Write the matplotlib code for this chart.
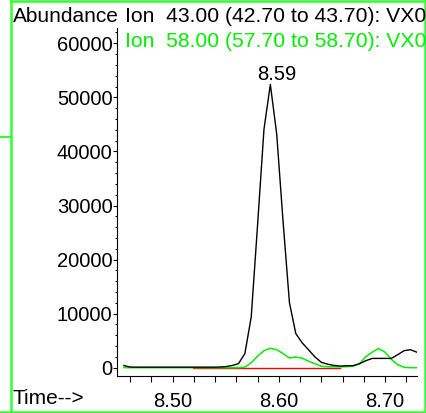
import matplotlib
matplotlib.use('Agg')
import matplotlib.pyplot as plt
from matplotlib.lines import Line2D
from matplotlib.ticker import MultipleLocator, FormatStrFormatter

plt.rcParams['font.family'] = ['Liberation Sans', 'DejaVu Sans']

# retention time (min) and abundance
time = [8.454, 8.460, 8.466, 8.472, 8.478, 8.484, 8.490, 8.496, 8.502, 8.508,
        8.514, 8.520, 8.526, 8.532, 8.538, 8.544, 8.550, 8.556, 8.562, 8.568,
        8.574, 8.580, 8.586, 8.592, 8.598, 8.604, 8.610, 8.616, 8.622, 8.628,
        8.634, 8.640, 8.646, 8.652, 8.658, 8.664, 8.670, 8.676, 8.682, 8.688,
        8.694, 8.700, 8.706, 8.712, 8.718, 8.724, 8.730]
ion43 = [400, 120, 100, 100, 100, 100, 100, 100, 100, 100,
         100, 100, 100, 100, 100, 120, 200, 400, 750, 2600,
         9400, 26500, 44100, 52400, 43200, 27000, 12000, 6300, 4600, 3300,
         2000, 1000, 650, 420, 300, 370, 370, 740, 1300, 1720,
         1720, 1720, 1720, 2400, 3150, 3330, 2870]
ion58 = [20, 0, 0, 0, 0, 0, 0, 0, 0, 0,
         0, 0, 0, 0, 0, 0, 0, 0, 20, 90,
         930, 2130, 3150, 3600, 3330, 2600, 1800, 1980, 1760, 1200,
         740, 280, 180, 170, 170, 180, 280, 740, 2040, 2870,
         3550, 2870, 1540, 560, 90, 0, 0]

# integration baseline
base_t = [8.519, 8.658]
base_y = [0, 0]

peak_label = '8.59'
peak_t = 8.592
peak_y = 52400

title1 = 'Ion  43.00 (42.70 to 43.70): VX0'
title2 = 'Ion  58.00 (57.70 to 58.70): VX0'

W, H = 427, 413
fig = plt.figure(figsize=(W / 100, H / 100), dpi=100)
ax = fig.add_axes([117.5 / W, 1 - 376 / H, (416.5 - 117.5) / W, (376 - 28) / H])

green = '#00ee00'
ax.plot(base_t, base_y, color='red', lw=1.0, zorder=2)
ax.plot(time, ion58, color=green, lw=1.1, zorder=3)
ax.plot(time, ion43, color='black', lw=1.0, zorder=4)

ax.set_xlim(8.448, 8.7297)
ax.set_ylim(-1535, 62830)

ax.spines['top'].set_visible(False)
ax.spines['right'].set_visible(False)
ax.spines['left'].set_linewidth(0.8)
ax.spines['bottom'].set_linewidth(0.8)

ax.xaxis.set_major_locator(MultipleLocator(0.1))
ax.xaxis.set_minor_locator(MultipleLocator(0.02))
ax.xaxis.set_major_formatter(FormatStrFormatter('%.2f'))
ax.yaxis.set_major_locator(MultipleLocator(10000))
ax.yaxis.set_minor_locator(MultipleLocator(2000))

ax.tick_params(axis='x', which='both', direction='out', length=4.1, width=0.8,
               labelsize=14.5, pad=7.5)
ax.tick_params(axis='y', which='major', direction='out', length=2.9, width=0.8,
               labelsize=14.5, pad=0.7)
ax.tick_params(axis='y', which='minor', direction='out', length=1.2, width=0.7)

ax.annotate(peak_label, (peak_t, peak_y), xytext=(4.3, 3.1), textcoords='offset points',
            ha='center', va='baseline', fontsize=14.5)

fig.text(12.7 / W, 1 - 21.7 / H, 'Abundance', fontsize=15, va='baseline', ha='left')
fig.text(125 / W, 1 - 21.7 / H, title1, fontsize=15.2, va='baseline', ha='left')
fig.text(125 / W, 1 - 46.7 / H, title2, fontsize=15.2, va='baseline', ha='left', color=green)
fig.text(13 / W, 1 - 404.5 / H, 'Time-->', fontsize=15, va='baseline', ha='left')

# green frame around the plot panel
bc = '#33ff33'
fig.add_artist(Line2D([11.5 / W, 11.5 / W], [0, 1], color=bc, lw=1.8))
fig.add_artist(Line2D([425 / W, 425 / W], [0, 1], color=bc, lw=1.8))
fig.add_artist(Line2D([11.5 / W, 1], [1 - 1.2 / H, 1 - 1.2 / H], color=bc, lw=1.8))
fig.add_artist(Line2D([0, 1], [1 - 411.5 / H, 1 - 411.5 / H], color=bc, lw=1.8))
fig.add_artist(Line2D([0, 10.5 / W], [1 - 137 / H, 1 - 137 / H], color=bc, lw=1.5))

fig.savefig('out.png', dpi=100)
